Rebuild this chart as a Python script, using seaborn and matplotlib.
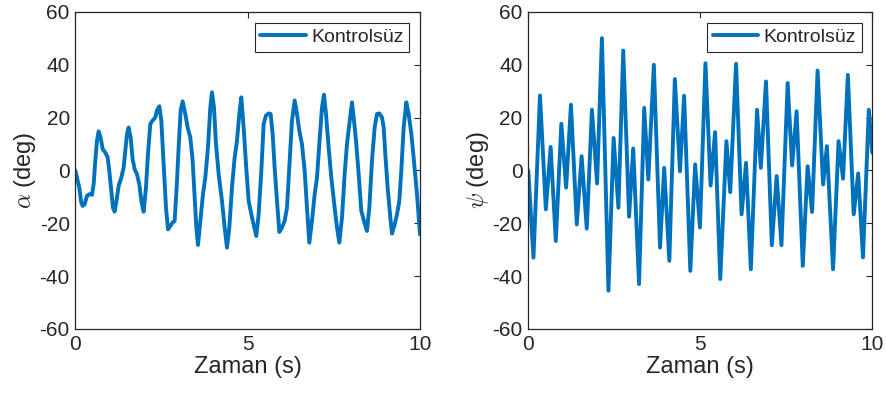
import matplotlib
matplotlib.use("Agg")
import matplotlib.pyplot as plt
import seaborn as sns
import pandas as pd

# Pitch angle alpha (deg) of the uncontrolled system
alpha_t = [0.000, 0.116, 0.174, 0.213, 0.271, 0.338, 0.406, 0.484, 0.532, 0.580,
           0.629, 0.677, 0.735, 0.793, 0.870, 0.938, 0.986, 1.044, 1.093, 1.141,
           1.209, 1.257, 1.335, 1.402, 1.451, 1.499, 1.547, 1.605, 1.663, 1.721,
           1.789, 1.857, 1.915, 1.983, 2.050, 2.108, 2.176, 2.244, 2.321, 2.369,
           2.437, 2.495, 2.563, 2.631, 2.689, 2.756, 2.824, 2.882, 2.940, 2.998,
           3.056, 3.114, 3.191, 3.259, 3.337, 3.404, 3.462, 3.511, 3.559, 3.627,
           3.704, 3.772, 3.849, 3.917, 3.965, 4.023, 4.081, 4.159, 4.255, 4.333,
           4.400, 4.468, 4.545, 4.623, 4.691, 4.758, 4.816, 4.884, 4.952, 5.029,
           5.126, 5.193, 5.251, 5.319, 5.397, 5.464, 5.532, 5.609, 5.667, 5.725,
           5.783, 5.851, 5.919, 5.996, 6.074, 6.141, 6.209, 6.286, 6.364, 6.431,
           6.499, 6.576, 6.654, 6.721, 6.789, 6.867, 6.944, 7.012, 7.079, 7.157,
           7.215, 7.273, 7.350, 7.427, 7.524, 7.592, 7.660, 7.737, 7.814, 7.882,
           7.950, 8.027, 8.085, 8.143, 8.221, 8.298, 8.375, 8.462, 8.530, 8.607,
           8.685, 8.752, 8.820, 8.897, 8.946, 8.994, 9.062, 9.139, 9.188, 9.265,
           9.333, 9.400, 9.458, 9.526, 9.603, 9.671, 9.749, 9.816, 9.913, 10.000]
alpha_v = [0.0, -6.5, -12.2, -13.4, -12.8, -9.6, -9.0, -9.2, -5.2, 3.7,
           11.3, 14.8, 12.5, 8.1, 6.8, 5.0, -0.1, -7.7, -14.1, -15.6,
           -10.3, -5.8, -2.7, 1.1, 7.5, 13.8, 16.3, 12.5, 4.3, 0.5,
           -1.4, -5.2, -11.5, -15.6, -6.5, 6.2, 17.6, 18.9, 20.1, 22.7,
           24.3, 18.9, 2.4, -14.1, -22.3, -21.0, -19.7, -19.1, -6.5, 8.7,
           22.7, 26.2, 21.4, 16.3, 12.5, 3.7, -10.3, -21.6, -28.2, -19.1,
           -9.0, -2.7, 8.7, 23.9, 29.6, 23.9, 10.0, -1.4, -11.5, -21.6,
           -29.2, -21.6, -6.5, 4.9, 11.3, 21.4, 27.7, 16.3, 2.4, -11.5,
           -17.8, -21.6, -24.8, -16.6, -0.1, 17.6, 20.8, 21.6, 21.4, 13.8,
           1.1, -11.5, -23.3, -21.6, -19.1, -14.1, 1.1, 18.9, 26.5, 21.4,
           15.1, 10.0, -0.1, -14.1, -27.3, -19.1, -9.0, -2.7, 10.0, 23.9,
           28.7, 21.4, 8.7, -2.7, -14.1, -21.6, -27.3, -17.8, -1.4, 10.0,
           17.6, 25.8, 18.9, 11.3, -1.4, -15.3, -19.1, -22.9, -14.1, 3.7,
           16.3, 21.4, 21.6, 20.1, 16.3, 6.2, -6.5, -17.8, -23.9, -20.4,
           -16.6, -11.5, -0.1, 16.3, 25.8, 21.4, 13.8, 4.9, -9.0, -24.2]

# Yaw angle psi (deg) of the uncontrolled system
psi_t = [0.00, 0.15, 0.34, 0.51, 0.65, 0.80, 0.96, 1.10, 1.24, 1.41, 1.55, 1.70, 1.85,
         2.00, 2.14, 2.33, 2.48, 2.62, 2.76, 2.93, 3.05, 3.22, 3.37, 3.49, 3.65, 3.83,
         3.95, 4.10, 4.26, 4.41, 4.53, 4.71, 4.85, 4.99, 5.15, 5.30, 5.43, 5.58, 5.76,
         5.87, 6.04, 6.20, 6.33, 6.47, 6.65, 6.76, 6.91, 7.08, 7.22, 7.36, 7.54, 7.67,
         7.80, 7.98, 8.12, 8.25, 8.41, 8.57, 8.68, 8.86, 9.02, 9.15, 9.29, 9.46, 9.59,
         9.73, 9.90, 10.00]
psi_v = [0.0, -33.0, 28.4, -14.7, 8.9, -26.7, 17.7, -6.5, 24.9, -20.4, 5.4, -22.0, 23.0,
         -4.9, 50.1, -45.5, 12.3, -14.1, 45.4, -17.5, 8.3, -43.0, 23.7, -3.4, 40.0, -29.2,
         1.0, -34.2, 34.6, -0.3, 28.3, -38.0, 2.3, -21.6, 40.6, -5.7, 14.5, -41.1, 11.1,
         -8.2, 40.4, -16.6, 2.9, -37.4, 23.0, 1.0, 33.7, -28.3, -2.1, -28.3, 33.1, 1.9,
         22.4, -36.1, 1.6, -15.7, 37.8, -5.3, 9.2, -37.4, 11.1, -3.1, 36.2, -16.6, -1.1,
         -32.9, 23.0, 6.7]

x_ticks = [0, 5, 10]
y_ticks = [-60, -40, -20, 0, 20, 40, 60]
series_label = "Kontrolsüz"
x_label = "Zaman (s)"
y_labels = [r"$\alpha$ (deg)", r"$\psi$ (deg)"]

sns.set_theme(style="white")
plt.rcParams["font.family"] = ["Liberation Sans", "DejaVu Sans"]
plt.rcParams["mathtext.fontset"] = "cm"
plt.rcParams["axes.unicode_minus"] = False

line_color = "#0072BD"
axis_color = "#262626"

fig = plt.figure(figsize=(8.87, 4.01), dpi=100)
ax1 = fig.add_axes([0.0849, 0.1796, 0.3886, 0.7905])
ax2 = fig.add_axes([0.5956, 0.1796, 0.3878, 0.7905])

frames = [pd.DataFrame({"t": alpha_t, "v": alpha_v}),
          pd.DataFrame({"t": psi_t, "v": psi_v})]

for ax, df, ylab in zip([ax1, ax2], frames, y_labels):
    sns.lineplot(data=df, x="t", y="v", ax=ax, color=line_color, linewidth=2.8,
                 label=series_label, sort=False, solid_joinstyle="round",
                 solid_capstyle="round")
    ax.set_xlim(0, 10)
    ax.set_ylim(-60, 60)
    ax.set_xticks(x_ticks)
    ax.set_yticks(y_ticks)
    ax.set_xlabel(x_label, fontsize=17, color=axis_color, labelpad=2)
    ax.set_ylabel(ylab, fontsize=17, color=axis_color, labelpad=1)
    ax.tick_params(direction="in", length=4, width=0.8, colors=axis_color,
                   labelsize=15, top=True, right=True, pad=4)
    for sp in ax.spines.values():
        sp.set_visible(True)
        sp.set_color(axis_color)
        sp.set_linewidth(0.9)
    ax.grid(False)
    leg = ax.legend(loc="upper right", fontsize=14, frameon=True, fancybox=False,
                    handlelength=2.35, handletextpad=0.25, borderpad=0.3,
                    borderaxespad=0.55)
    leg.get_frame().set_edgecolor(axis_color)
    leg.get_frame().set_linewidth(0.8)
    leg.get_frame().set_alpha(1)

fig.savefig("out.png", dpi=100)
